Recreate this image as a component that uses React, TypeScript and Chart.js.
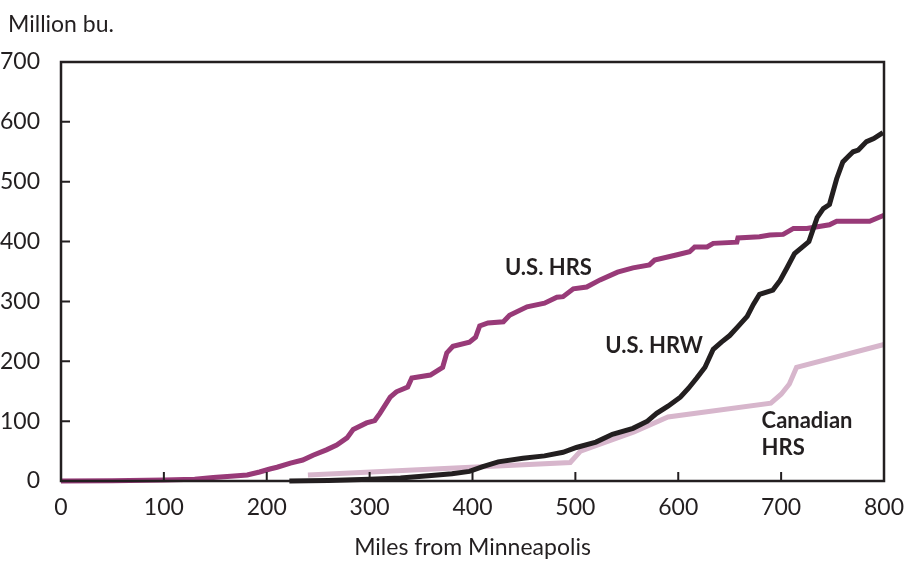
import React, { useEffect, useRef } from 'react';
import { Chart, registerables } from 'chart.js';

Chart.register(...registerables);

// U.S. HRS (miles, million bu.)
const hrsMiles = [0, 50, 100, 130, 148, 165, 181, 193, 203, 210, 223, 235, 245, 258, 268, 278, 284, 297, 305, 310, 320, 326, 337, 341, 359, 371, 375, 381, 397, 403, 407, 415, 430, 436, 453, 470, 482, 488, 498, 511, 524, 541, 556, 572, 577, 599, 611, 616, 628, 634, 657, 658, 679, 689, 702, 712, 725, 747, 754, 786, 800];
const hrsValues = [0, 0.5, 1.5, 3, 6, 8, 10, 15, 20, 23, 30, 35, 43, 52, 60, 72, 86, 97, 101, 113, 140, 149, 157, 172, 177, 190, 214, 225, 232, 240, 259, 264, 266, 277, 291, 297, 307, 308, 321, 324, 336, 349, 356, 361, 369, 378, 383, 391, 391, 397, 399, 406, 408, 411, 412, 422, 422, 428, 434, 434, 444];

// U.S. HRW
const hrwMiles = [222, 260, 300, 330, 360, 380, 397, 410, 425, 449, 470, 488, 501, 520, 536, 556, 570, 579, 590, 602, 610, 618, 626, 634, 642, 650, 658, 667, 673, 679, 692, 699, 706, 713, 720, 727, 735, 741, 747, 754, 760, 764, 770, 775, 783, 790, 799];
const hrwValues = [0, 1, 3, 5, 9, 12, 16, 24, 32, 38, 42, 48, 56, 65, 78, 88, 100, 113, 125, 140, 155, 172, 190, 220, 232, 243, 258, 275, 295, 312, 319, 335, 357, 380, 390, 400, 440, 455, 462, 505, 533, 540, 550, 553, 567, 572, 582];

// Canadian HRS
const canMiles = [240, 495, 505, 557, 590, 690, 700, 708, 715, 800];
const canValues = [10, 31, 50, 82, 107, 130, 145, 162, 190, 228];

// Axis ticks
const xTicks = [0, 100, 200, 300, 400, 500, 600, 700, 800];
const yTicks = [0, 100, 200, 300, 400, 500, 600, 700];

// Series annotations (data coordinates)
const labelTexts = ['U.S. HRS', 'U.S. HRW', 'Canadian', 'HRS'];
const labelMiles = [431.5, 529, 681, 681];
const labelValues = [344, 214, 88.5, 43.4];

const INK = '#231f20';
const FONT = 'Lato, "DejaVu Sans", sans-serif';

const toPts = (xs: number[], ys: number[]) => xs.map((x, i) => ({ x, y: ys[i] }));

const framePlugin = {
  id: 'frame',
  afterDraw(chart: any) {
    const { ctx, chartArea: a, scales } = chart;
    ctx.save();
    ctx.strokeStyle = INK;
    ctx.lineWidth = 2.5;
    ctx.strokeRect(a.left, a.top, a.right - a.left, a.bottom - a.top);
    ctx.lineWidth = 2;
    ctx.beginPath();
    for (const v of xTicks.slice(1, -1)) {
      const px = scales.x.getPixelForValue(v);
      ctx.moveTo(px, a.bottom);
      ctx.lineTo(px, a.bottom - 9);
    }
    for (const v of yTicks.slice(1, -1)) {
      const py = scales.y.getPixelForValue(v);
      ctx.moveTo(a.left, py);
      ctx.lineTo(a.left + 9, py);
    }
    ctx.stroke();
    ctx.fillStyle = INK;
    ctx.font = `23px ${FONT}`;
    ctx.textAlign = 'left';
    ctx.textBaseline = 'alphabetic';
    ctx.fillText('Million bu.', 8, 32);
    ctx.font = `bold 22px ${FONT}`;
    labelTexts.forEach((t, i) => {
      ctx.fillText(t, scales.x.getPixelForValue(labelMiles[i]), scales.y.getPixelForValue(labelValues[i]));
    });
    ctx.restore();
  },
};

export default function App() {
  const ref = useRef<HTMLCanvasElement>(null);
  useEffect(() => {
    document.body.style.margin = '0';
    const lineBase = { pointRadius: 0, borderWidth: 5, tension: 0, clip: false as any, borderJoinStyle: 'miter' as const, fill: false };
    const chart = new Chart(ref.current!, {
      type: 'line',
      data: {
        datasets: [
          { ...lineBase, label: 'U.S. HRW', data: toPts(hrwMiles, hrwValues), borderColor: INK },
          { ...lineBase, label: 'Canadian HRS', data: toPts(canMiles, canValues), borderColor: '#d7b6cc' },
          { ...lineBase, label: 'U.S. HRS', data: toPts(hrsMiles, hrsValues), borderColor: '#983a78' },
        ],
      },
      options: {
        animation: false,
        responsive: false,
        layout: { padding: { left: 0, top: 62, right: 21, bottom: 0 } },
        plugins: { legend: { display: false }, tooltip: { enabled: false }, title: { display: false } },
        scales: {
          x: {
            type: 'linear',
            min: 0,
            max: 800,
            afterBuildTicks: (s: any) => { s.ticks = xTicks.map((v) => ({ value: v })); },
            afterFit: (s: any) => { s.height = 80; s.paddingLeft = 0; s.paddingRight = 0; },
            ticks: { color: INK, font: { family: FONT, size: 23 }, padding: 5, maxRotation: 0 },
            grid: { display: false },
            border: { display: false },
            title: { display: true, text: 'Miles from Minneapolis', color: INK, font: { family: FONT, size: 23 }, padding: { top: 0, bottom: 0 } },
          },
          y: {
            type: 'linear',
            min: 0,
            max: 700,
            afterBuildTicks: (s: any) => { s.ticks = yTicks.map((v) => ({ value: v })); },
            afterFit: (s: any) => { s.width = 61; s.paddingTop = 0; s.paddingBottom = 0; },
            ticks: { color: INK, font: { family: FONT, size: 23 }, padding: 13 },
            grid: { display: false },
            border: { display: false },
          },
        },
      },
      plugins: [framePlugin],
    });
    return () => chart.destroy();
  }, []);
  return <canvas ref={ref} width={905} height={561} />;
}
